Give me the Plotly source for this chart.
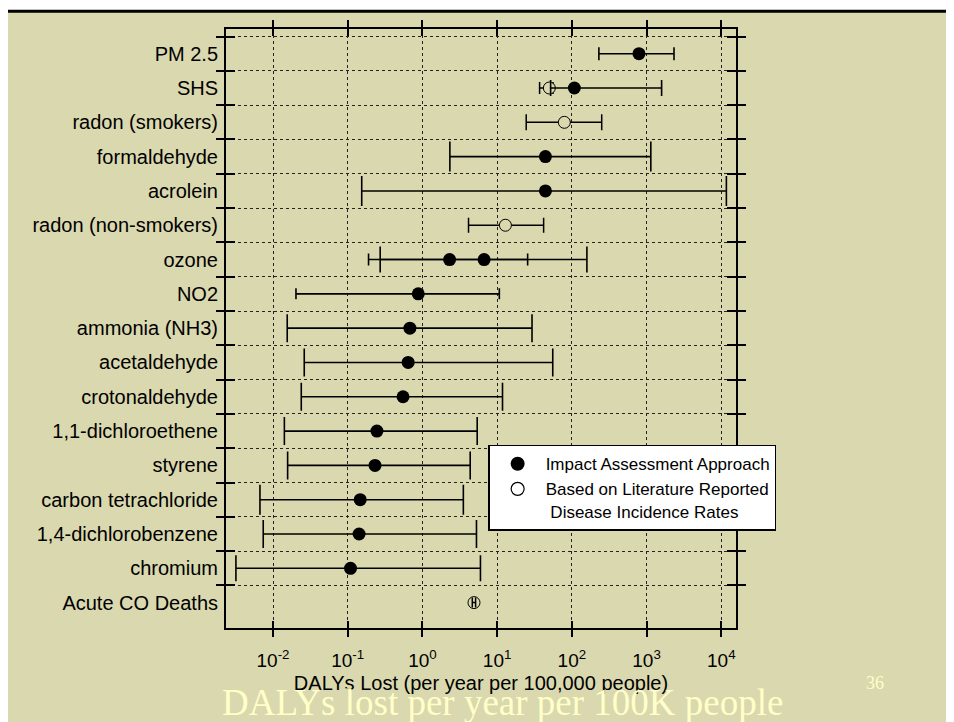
import plotly.graph_objects as go

# ---------------- data ----------------
categories = [
    "PM 2.5", "SHS", "radon (smokers)", "formaldehyde", "acrolein",
    "radon (non-smokers)", "ozone", "NO2", "ammonia (NH3)", "acetaldehyde",
    "crotonaldehyde", "1,1-dichloroethene", "styrene", "carbon tetrachloride",
    "1,4-dichlorobenzene", "chromium", "Acute CO Deaths",
]

# Impact Assessment Approach (filled circles): central estimate and range
impact_mid = [791, 108, None, 44.3, 44.3, None, 2.31, 0.88, 0.68, 0.644,
              0.55, 0.246, 0.232, 0.147, 0.142, 0.109, None]
impact_low = [230, 52, None, 2.33, 0.154, None, 0.19, 0.0203, 0.0155, 0.0262,
              0.0239, 0.0142, 0.0157, 0.00669, 0.0074, 0.00319, None]
impact_high = [2330, 1590, None, 1140, 11700, None, 25.6, 10.7, 29.3, 55.5,
               11.8, 5.41, 4.36, 3.53, 5.29, 5.98, None]

# second impact estimate for ozone
ozone_alt_category = "ozone"
ozone_alt_mid = 6.69
ozone_alt_low = 0.272
ozone_alt_high = 159

# Based on Literature Reported Disease Incidence Rates (open circles)
lit_mid = [None, 50, 79.3, None, None, 12.9, None, None, None, None,
           None, None, None, None, None, None, 4.9]
lit_low = [None, 37, 24.5, None, None, 4.14, None, None, None, None,
           None, None, None, None, None, None, 4.65]
lit_high = [None, 56, 251, None, None, 41.9, None, None, None, None,
            None, None, None, None, None, None, 5.15]

x_tickvals = [1e-2, 1e-1, 1e0, 1e1, 1e2, 1e3, 1e4]
x_ticktext = ["10<sup>-2</sup>", "10<sup>-1</sup>", "10<sup>0</sup>",
              "10<sup>1</sup>", "10<sup>2</sup>", "10<sup>3</sup>",
              "10<sup>4</sup>"]

legend_names = ["Impact Assessment Approach",
                "Based on Literature Reported<br> Disease Incidence Rates"]
x_title = "DALYs Lost (per year per 100,000 people)"
slide_title = "DALYs lost per year per 100K people"
slide_number = "36"

# ---------------- styles ----------------
BG = "#DAD8AF"
CREAM = "#FFFFC8"
SANS = "Liberation Sans, Arial, sans-serif"
SERIF = "Liberation Serif, Times New Roman, serif"
impact_caps = [6.5, 8, 0, 15, 15, 0, 6, 5.5, 14, 14, 14, 14, 14, 15, 14, 13, 0]
ozone_alt_cap = 13
lit_caps = [0, 6, 8, 0, 0, 7.5, 0, 0, 0, 0, 0, 0, 0, 0, 0, 0, 5]
lit_fill = [BG, BG, BG, BG, BG, BG, BG, BG, BG, BG, BG, BG, BG, BG, BG, BG,
            "rgba(0,0,0,0)"]

fig = go.Figure()

for i, cat in enumerate(categories):
    if lit_mid[i] is not None:
        fig.add_trace(go.Scatter(
            x=[lit_mid[i]], y=[cat], mode="markers", showlegend=False,
            marker=dict(symbol="circle", size=12, color=lit_fill[i],
                        line=dict(color="black", width=1)),
            error_x=dict(type="data", symmetric=False,
                         array=[lit_high[i] - lit_mid[i]],
                         arrayminus=[lit_mid[i] - lit_low[i]],
                         width=lit_caps[i], thickness=1.5, color="black"),
        ))

for i, cat in enumerate(categories):
    if impact_mid[i] is not None:
        fig.add_trace(go.Scatter(
            x=[impact_mid[i]], y=[cat], mode="markers", showlegend=False,
            marker=dict(symbol="circle", size=13, color="black"),
            error_x=dict(type="data", symmetric=False,
                         array=[impact_high[i] - impact_mid[i]],
                         arrayminus=[impact_mid[i] - impact_low[i]],
                         width=impact_caps[i], thickness=1.6, color="black"),
        ))

fig.add_trace(go.Scatter(
    x=[ozone_alt_mid], y=[ozone_alt_category], mode="markers", showlegend=False,
    marker=dict(symbol="circle", size=13, color="black"),
    error_x=dict(type="data", symmetric=False,
                 array=[ozone_alt_high - ozone_alt_mid],
                 arrayminus=[ozone_alt_mid - ozone_alt_low],
                 width=ozone_alt_cap, thickness=1.6, color="black"),
))

# legend entries
fig.add_trace(go.Scatter(x=[None], y=[None], mode="markers", name=legend_names[0],
                         marker=dict(symbol="circle", size=14, color="black")))
fig.add_trace(go.Scatter(x=[None], y=[None], mode="markers", name=legend_names[1],
                         marker=dict(symbol="circle", size=13, color="white",
                                     line=dict(color="black", width=1.2))))

# placeholders that register the overlay axes (crossing tick marks)
fig.add_trace(go.Scatter(x=[None] * len(categories), y=categories, xaxis="x2", yaxis="y",
                         mode="markers", showlegend=False, hoverinfo="skip"))
fig.add_trace(go.Scatter(x=[None] * len(categories), y=categories, xaxis="x", yaxis="y2",
                         mode="markers", showlegend=False, hoverinfo="skip"))

xrange_log = [-2.629, 4.197]
yrange = [len(categories) - 1 + 0.74, -0.72]

common_x = dict(type="log", range=xrange_log, tickmode="array", tickvals=x_tickvals,
                tickwidth=2, tickcolor="black", ticklen=7, showline=True,
                linecolor="black", linewidth=2, mirror="ticks")
common_y = dict(type="category", categoryorder="array", categoryarray=categories,
                range=yrange, tickson="boundaries", tickwidth=2, tickcolor="black",
                showline=True, linecolor="black", linewidth=2, mirror="ticks",
                zeroline=False)

fig.update_layout(
    width=954, height=722, autosize=False,
    margin=dict(l=218, r=226, t=19, b=102, pad=0),
    paper_bgcolor="white", plot_bgcolor="rgba(0,0,0,0)",
    font=dict(family=SANS, color="black"),
    xaxis=dict(**common_x, ticks="outside", ticktext=x_ticktext,
               tickfont=dict(size=19, family=SANS, color="black"),
               ticklabelstandoff=7,
               showgrid=True, gridcolor="#222", griddash="dot", gridwidth=1,
               title=dict(text=x_title, font=dict(size=20, family=SANS, color="black"),
                          standoff=6)),
    xaxis2=dict(**common_x, ticks="inside", overlaying="x", anchor="y",
                showticklabels=False, showgrid=False),
    yaxis=dict(**common_y, ticks="outside", ticklen=8,
               tickfont=dict(size=20, family=SANS, color="black"),
               ticklabelstandoff=2,
               showgrid=True, gridcolor="#222", griddash="dot", gridwidth=1),
    yaxis2=dict(**common_y, ticks="inside", ticklen=9, overlaying="y", anchor="x",
                side="left", showticklabels=False, showgrid=False),
    legend=dict(x=0.514, y=0.306, xanchor="left", yanchor="top",
                bgcolor="white", bordercolor="black", borderwidth=1.5,
                font=dict(size=17, family=SANS, color="black"),
                itemwidth=46, valign="top", tracegroupgap=0),
    showlegend=True,
    shapes=[dict(type="rect", xref="paper", yref="paper",
                 x0=-0.4335, x1=1.45, y0=-0.17, y1=1.0295,
                 fillcolor=BG, line=dict(color="black", width=3), layer="below")],
    annotations=[
        dict(text=slide_title, xref="paper", yref="paper", x=0.543, y=-0.124,
             xanchor="center", yanchor="middle", showarrow=False,
             font=dict(family=SERIF, size=37, color=CREAM)),
        dict(text=slide_number, xref="paper", yref="paper", x=1.2725, y=-0.091,
             xanchor="center", yanchor="middle", showarrow=False,
             font=dict(family=SERIF, size=18, color=CREAM)),
    ],
)

fig.write_html("out.html")
